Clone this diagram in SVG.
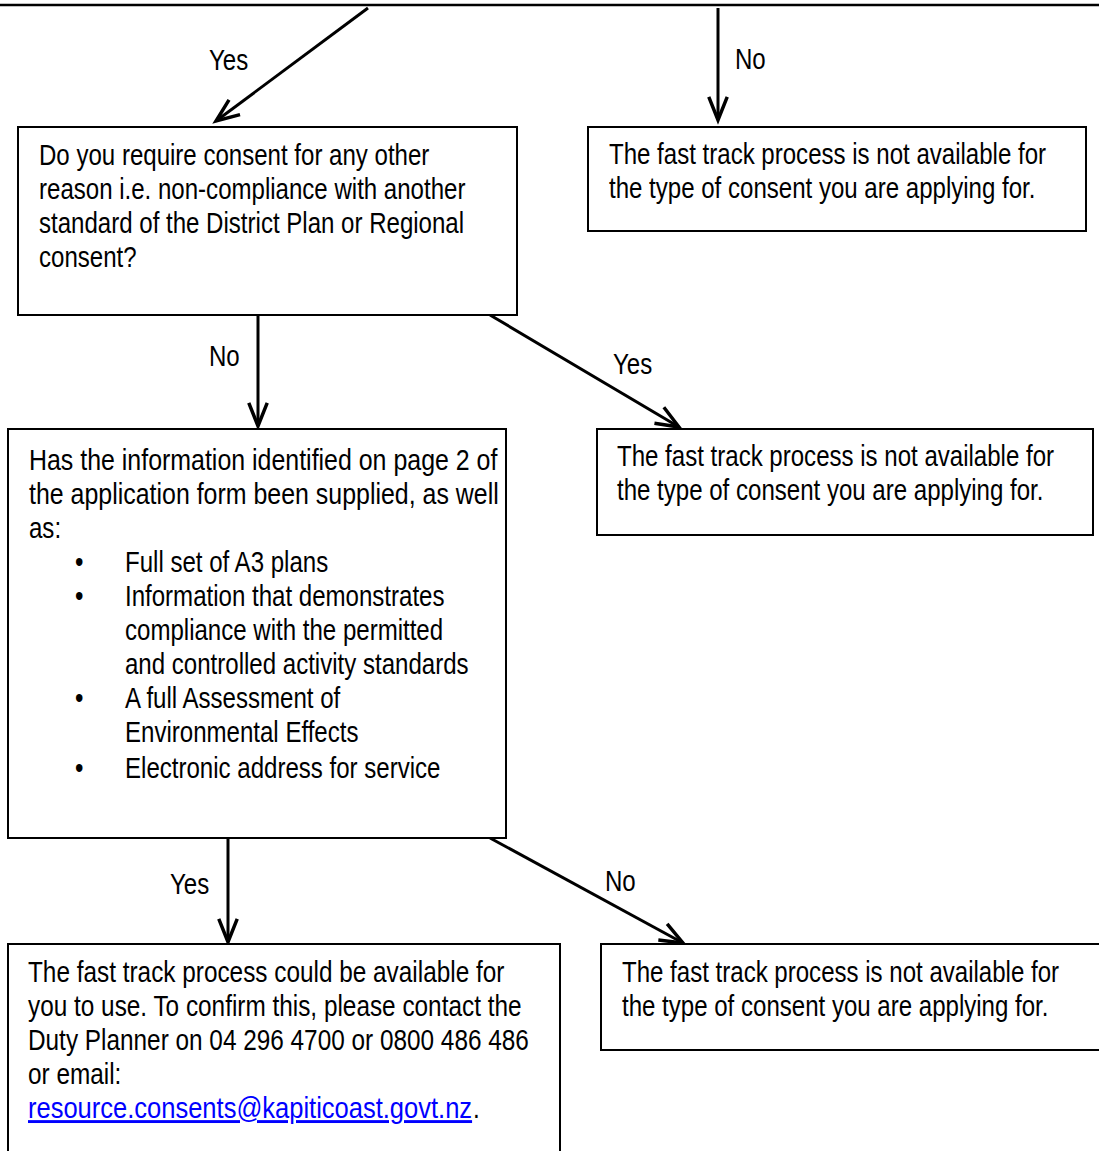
<svg xmlns="http://www.w3.org/2000/svg" width="1099" height="1151" viewBox="0 0 1099 1151">
<defs>
<style>
.box{fill:#fff;stroke:#000;stroke-width:2}
.t{font-family:"Liberation Sans",Arial,sans-serif;font-size:29px;fill:#000}
.c{fill:none;stroke:#000;stroke-width:3}
.link{fill:#0000ff;text-decoration:underline}
</style>
<marker id="ah" markerUnits="userSpaceOnUse" markerWidth="30" markerHeight="30" viewBox="-22 -12 26 24" refX="0" refY="0" orient="auto">
<path d="M-20,-8 L0,0 L-20,8" fill="none" stroke="#000" stroke-width="3"/>
</marker>
</defs>
<rect width="1099" height="1151" fill="#fff"/>
<line x1="0" y1="5" x2="1099" y2="5" stroke="#000" stroke-width="2.5"/>

<g id="connectors">
<line class="c" x1="368" y1="8" x2="216" y2="121" marker-end="url(#ah)"/>
<line class="c" x1="718" y1="8" x2="718" y2="120" marker-end="url(#ah)"/>
<line class="c" x1="258" y1="315" x2="258" y2="426" marker-end="url(#ah)"/>
<line class="c" x1="490" y1="315" x2="679" y2="427" marker-end="url(#ah)"/>
<line class="c" x1="228" y1="838" x2="228" y2="942" marker-end="url(#ah)"/>
<line class="c" x1="490" y1="838" x2="683" y2="943" marker-end="url(#ah)"/>
<text class="t" transform="translate(209 70) scale(0.83 1)">Yes</text>
<text class="t" transform="translate(735 69) scale(0.83 1)">No</text>
<text class="t" transform="translate(209 366) scale(0.83 1)">No</text>
<text class="t" transform="translate(613 374) scale(0.83 1)">Yes</text>
<text class="t" transform="translate(170 894) scale(0.83 1)">Yes</text>
<text class="t" transform="translate(605 891) scale(0.83 1)">No</text>
</g>

<g id="q1">
<rect class="box" x="18" y="127" width="499" height="188"/>
<text class="t" transform="translate(39 165) scale(0.83 1)">Do you require consent for any other</text>
<text class="t" transform="translate(39 199) scale(0.83 1)">reason i.e. non-compliance with another</text>
<text class="t" transform="translate(39 233) scale(0.83 1)">standard of the District Plan or Regional</text>
<text class="t" transform="translate(39 267) scale(0.83 1)">consent?</text>
</g>

<g id="notavail1">
<rect class="box" x="588" y="127" width="498" height="104"/>
<text class="t" transform="translate(609 164) scale(0.83 1)">The fast track process is not available for</text>
<text class="t" transform="translate(609 198) scale(0.83 1)">the type of consent you are applying for.</text>
</g>

<g id="q2">
<rect class="box" x="8" y="429" width="498" height="409"/>
<text class="t" transform="translate(29 470) scale(0.86 1)">Has the information identified on page 2 of</text>
<text class="t" transform="translate(29 504) scale(0.86 1)">the application form been supplied, as well</text>
<text class="t" transform="translate(29 538) scale(0.83 1)">as:</text>
<text class="t" transform="translate(75 572) scale(0.83 1)">•</text>
<text class="t" transform="translate(125 572) scale(0.83 1)">Full set of A3 plans</text>
<text class="t" transform="translate(75 606) scale(0.83 1)">•</text>
<text class="t" transform="translate(125 606) scale(0.83 1)">Information that demonstrates</text>
<text class="t" transform="translate(125 640) scale(0.83 1)">compliance with the permitted</text>
<text class="t" transform="translate(125 674) scale(0.83 1)">and controlled activity standards</text>
<text class="t" transform="translate(75 708) scale(0.83 1)">•</text>
<text class="t" transform="translate(125 708) scale(0.83 1)">A full Assessment of</text>
<text class="t" transform="translate(125 742) scale(0.83 1)">Environmental Effects</text>
<text class="t" transform="translate(75 778) scale(0.83 1)">•</text>
<text class="t" transform="translate(125 778) scale(0.83 1)">Electronic address for service</text>
</g>

<g id="notavail2">
<rect class="box" x="597" y="429" width="496" height="106"/>
<text class="t" transform="translate(617 466) scale(0.83 1)">The fast track process is not available for</text>
<text class="t" transform="translate(617 500) scale(0.83 1)">the type of consent you are applying for.</text>
</g>

<g id="available">
<rect class="box" x="8" y="944" width="552" height="220"/>
<text class="t" transform="translate(28 982) scale(0.84 1)">The fast track process could be available for</text>
<text class="t" transform="translate(28 1016) scale(0.84 1)">you to use. To confirm this, please contact the</text>
<text class="t" transform="translate(28 1050) scale(0.84 1)">Duty Planner on 04 296 4700 or 0800 486 486</text>
<text class="t" transform="translate(28 1084) scale(0.84 1)">or email:</text>
<text class="t link" transform="translate(28 1118) scale(0.88 1)">resource.consents@kapiticoast.govt.nz</text>
<text class="t" transform="translate(473 1118) scale(0.84 1)">.</text>
</g>

<g id="notavail3">
<rect class="box" x="601" y="944" width="510" height="106"/>
<text class="t" transform="translate(622 982) scale(0.83 1)">The fast track process is not available for</text>
<text class="t" transform="translate(622 1016) scale(0.83 1)">the type of consent you are applying for.</text>
</g>
</svg>
